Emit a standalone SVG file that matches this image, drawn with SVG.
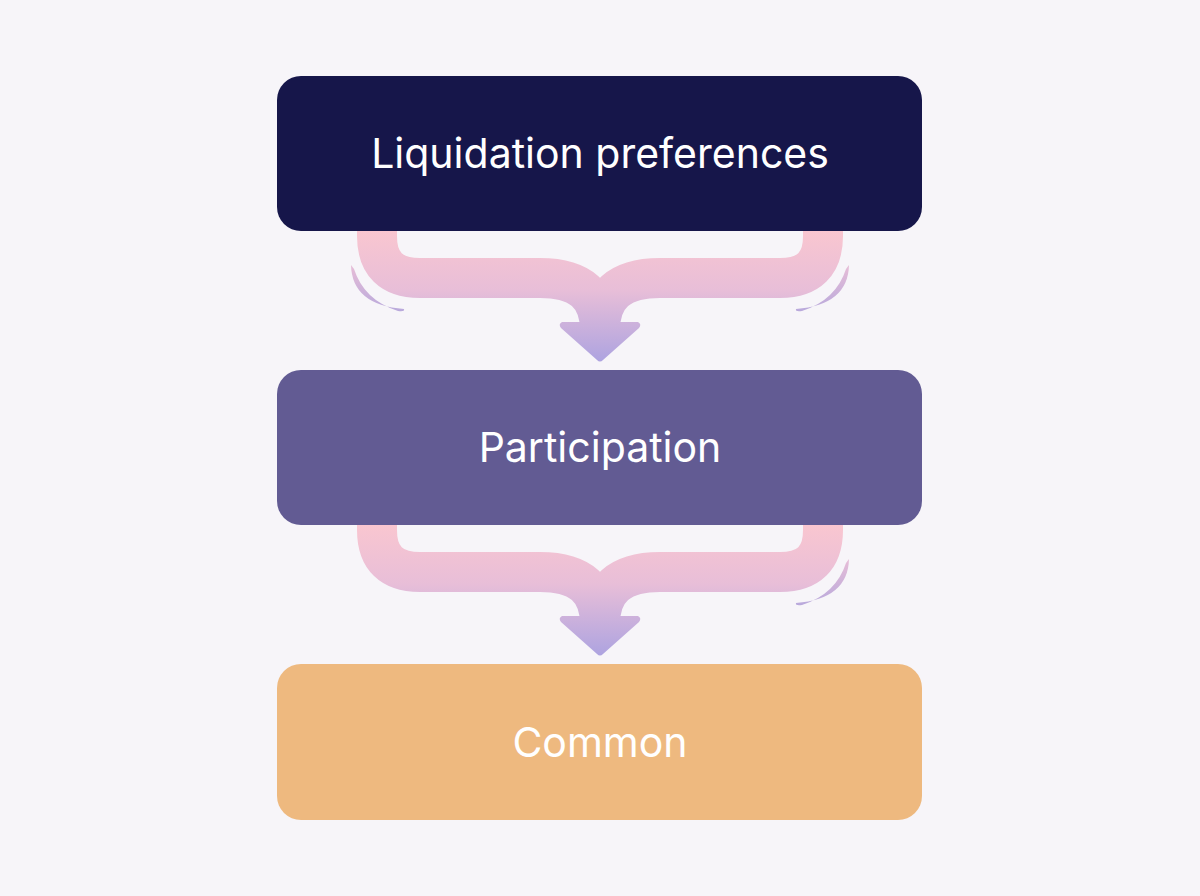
<svg xmlns="http://www.w3.org/2000/svg" width="1200" height="896" viewBox="0 0 1200 896">
<defs>
<linearGradient id="g1" gradientUnits="userSpaceOnUse" x1="0" y1="231" x2="0" y2="362">
<stop offset="0" stop-color="#f9c6d0"/>
<stop offset="0.45" stop-color="#e8bed8"/>
<stop offset="1" stop-color="#ada3e0"/>
</linearGradient>
<linearGradient id="g2" gradientUnits="userSpaceOnUse" x1="0" y1="525" x2="0" y2="656">
<stop offset="0" stop-color="#f9c6d0"/>
<stop offset="0.45" stop-color="#e8bed8"/>
<stop offset="1" stop-color="#ada3e0"/>
</linearGradient>
<linearGradient id="gs" x1="0" y1="0" x2="0" y2="1">
<stop offset="0" stop-color="#e7bdd7"/>
<stop offset="1" stop-color="#b9a9dc"/>
</linearGradient>
<style>
.lbl{font-family:Inter,"Liberation Sans",sans-serif;font-size:41px;fill:#ffffff;text-anchor:middle}
.arm{fill:none;stroke-width:40;stroke-linecap:butt;stroke-linejoin:round}
.sw{stroke:none;fill:url(#gs)}
</style>
</defs>
<rect width="1200" height="896" fill="#f7f5f9"/>
<g id="connectors">
<g id="c1">
<path class="arm" stroke="url(#g1)" d="M377 231 V236 Q377 278 420 278 H540 Q600 278 600 330"/>
<path class="arm" stroke="url(#g1)" d="M823 231 V236 Q823 278 780 278 H660 Q600 278 600 330"/>
<path d="M562 322 H638 Q642 324 639 328 L603 360 Q600 363 597 360 L561 328 Q558 324 562 322 Z" fill="url(#g1)"/>
<path class="sw" d="M351 265 Q352 305 404 309 Q405 312 398 311 Q364 300 354 269 Z"/>
<path class="sw" d="M849 265 Q848 305 796 309 Q795 312 802 311 Q836 300 846 269 Z"/>
</g>
<g id="c2">
<path class="arm" stroke="url(#g2)" d="M377 525 V530 Q377 572 420 572 H540 Q600 572 600 624"/>
<path class="arm" stroke="url(#g2)" d="M823 525 V530 Q823 572 780 572 H660 Q600 572 600 624"/>
<path d="M562 616 H638 Q642 618 639 622 L603 654 Q600 657 597 654 L561 622 Q558 618 562 616 Z" fill="url(#g2)"/>
<path class="sw" d="M849 559 Q848 599 796 603 Q795 606 802 605 Q836 594 846 563 Z"/>
</g>
</g>
<g id="n1">
<rect x="277" y="76" width="645" height="155" rx="24" fill="#16164a"/>
<text class="lbl" x="600" y="168">Liquidation preferences</text>
</g>
<g id="n2">
<rect x="277" y="370" width="645" height="155" rx="24" fill="#625b93"/>
<text class="lbl" x="600" y="462">Participation</text>
</g>
<g id="n3">
<rect x="277" y="664" width="645" height="156" rx="24" fill="#eeb97f"/>
<text class="lbl" x="600" y="757" fill="#fff8ee">Common</text>
</g>
</svg>
